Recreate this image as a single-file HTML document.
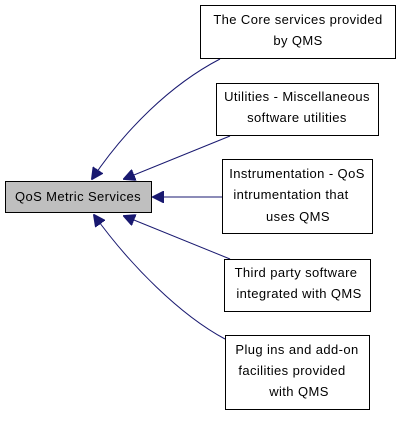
<!DOCTYPE html>
<html><head><meta charset="utf-8"><style>
html,body{margin:0;padding:0;background:#fff;}
svg text{font-family:"Liberation Sans",sans-serif;font-size:13px;letter-spacing:0.4px;fill:#000;}
</style></head><body>
<svg width="400" height="416" viewBox="0 0 400 416" xmlns="http://www.w3.org/2000/svg">
<defs><marker id="a" viewBox="0 0 12 12" refX="11" refY="6" markerWidth="12" markerHeight="12" markerUnits="userSpaceOnUse" orient="auto"><path d="M0,0L12,6L0,12z" fill="#191970" stroke="#191970"/></marker></defs>
<g fill="none" stroke="#191970" stroke-width="1">
<path d="M220,59 C170,85 125,130 92,179" marker-end="url(#a)"/>
<path d="M230,136 L124,179" marker-end="url(#a)"/>
<path d="M222,197 L153,197" marker-end="url(#a)"/>
<path d="M230,259 L124,216" marker-end="url(#a)"/>
<path d="M225,339 C180,315 130,265 94,215" marker-end="url(#a)"/>
</g>
<g stroke="#000" stroke-width="1">
<rect x="5.5" y="181.5" width="146" height="31" fill="#bfbfbf"/>
<rect x="200.5" y="5.5" width="195" height="53" fill="#fff"/>
<rect x="216.5" y="83.5" width="162" height="52" fill="#fff"/>
<rect x="222.5" y="159.5" width="150" height="74" fill="#fff"/>
<rect x="224.5" y="259.5" width="146" height="52" fill="#fff"/>
<rect x="225.5" y="335.5" width="144" height="74" fill="#fff"/>
</g>
<text x="78" y="201" text-anchor="middle">QoS Metric Services</text>
<text x="298" y="24" text-anchor="middle">The Core services provided</text>
<text x="298" y="45" text-anchor="middle">by QMS</text>
<text x="297" y="101" text-anchor="middle">Utilities - Miscellaneous</text>
<text x="297" y="122" text-anchor="middle">software utilities</text>
<text x="297" y="178" text-anchor="middle">Instrumentation - QoS</text>
<text x="291" y="199" text-anchor="middle">intrumentation that</text>
<text x="298" y="221" text-anchor="middle">uses QMS</text>
<text x="296" y="277" text-anchor="middle">Third party software</text>
<text x="299" y="298" text-anchor="middle">integrated with QMS</text>
<text x="297" y="354" text-anchor="middle">Plug ins and add-on</text>
<text x="292" y="375" text-anchor="middle">facilities provided</text>
<text x="299" y="396" text-anchor="middle">with QMS</text>
</svg>
</body></html>
